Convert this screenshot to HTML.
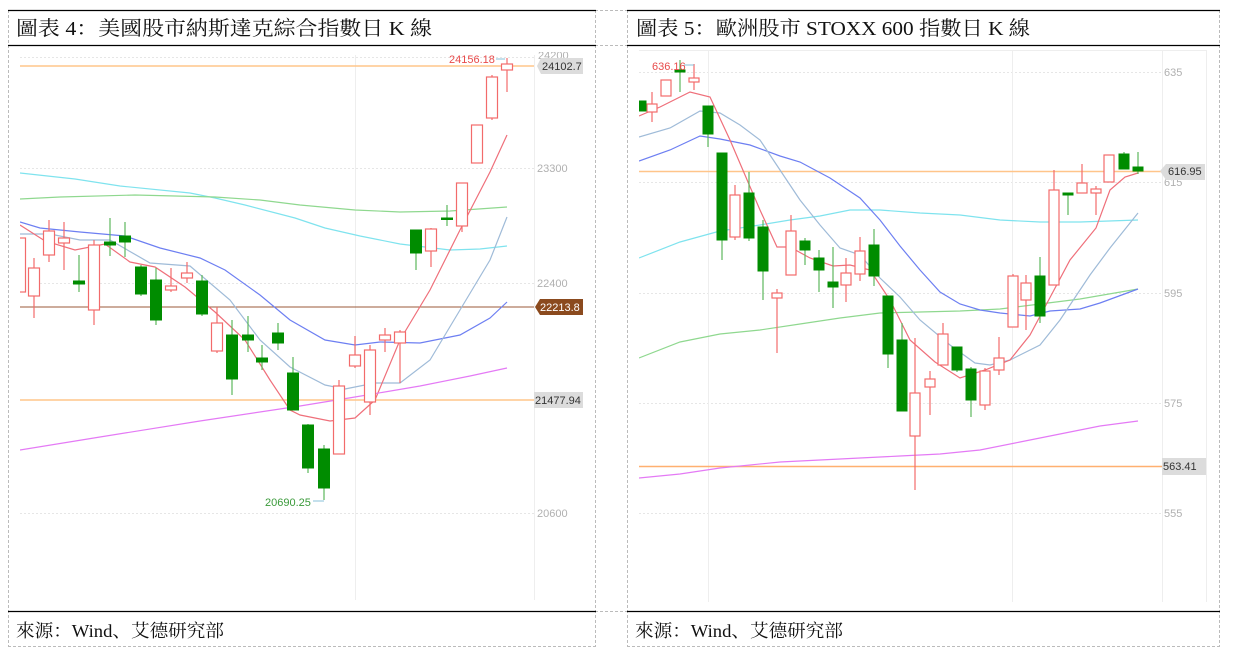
<!DOCTYPE html>
<html><head><meta charset="utf-8"><style>
html,body{margin:0;padding:0;background:#fff;}
svg{display:block;}
.t{font-family:"Liberation Serif","Noto Serif CJK SC",serif;fill:#111;}
.tk{font-family:"Liberation Sans",sans-serif;font-size:11px;fill:#b0b0b0;}
.lb{font-family:"Liberation Sans",sans-serif;font-size:11px;}
.r{fill:#fff;stroke:#f26b6b;stroke-width:1.2;}
.g{fill:#008c00;stroke:#008c00;stroke-width:1;}
.rw{stroke:#f26b6b;stroke-width:1.2;}
.gw{stroke:#5cb85c;stroke-width:1.2;}
.ma{fill:none;stroke-width:1.2;}
</style></head><body>
<svg width="1235" height="660" viewBox="0 0 1235 660" xmlns="http://www.w3.org/2000/svg">
<defs>
<clipPath id="cl"><rect x="20" y="50" width="520" height="560"/></clipPath>
<clipPath id="cr"><rect x="639" y="50" width="525" height="560"/></clipPath>
<clipPath id="ct"><rect x="530" y="52" width="60" height="20"/></clipPath>
</defs>
<g stroke="#bbb" stroke-dasharray="3,2" fill="none" stroke-width="1">
<line x1="8.5" y1="10" x2="8.5" y2="646"/><line x1="595.5" y1="10" x2="595.5" y2="646"/>
<line x1="8" y1="646.5" x2="596" y2="646.5"/>
<line x1="595" y1="10.5" x2="628" y2="10.5"/><line x1="595" y1="45.5" x2="628" y2="45.5"/>
<line x1="595" y1="611.5" x2="628" y2="611.5"/>
<line x1="627.5" y1="10" x2="627.5" y2="646"/><line x1="1219.5" y1="10" x2="1219.5" y2="646"/>
<line x1="627" y1="646.5" x2="1220" y2="646.5"/>
</g>
<g stroke="#000" stroke-width="1.3">
<line x1="8" y1="10.5" x2="596" y2="10.5"/><line x1="8" y1="45.5" x2="596" y2="45.5"/><line x1="8" y1="611.5" x2="596" y2="611.5"/>
<line x1="627" y1="10.5" x2="1220" y2="10.5"/><line x1="627" y1="45.5" x2="1220" y2="45.5"/><line x1="627" y1="611.5" x2="1220" y2="611.5"/>
</g>
<text class="t" x="16" y="35" font-size="20" textLength="416" lengthAdjust="spacingAndGlyphs">圖表 4：美國股市納斯達克綜合指數日 K 線</text>
<text class="t" x="636" y="35" font-size="20" textLength="394" lengthAdjust="spacingAndGlyphs">圖表 5：歐洲股市 STOXX 600 指數日 K 線</text>
<text class="t" x="16" y="637" font-size="18" textLength="208" lengthAdjust="spacingAndGlyphs">來源：Wind、艾德研究部</text>
<text class="t" x="635" y="637" font-size="18" textLength="208" lengthAdjust="spacingAndGlyphs">來源：Wind、艾德研究部</text>

<g stroke="#e6e6e6" stroke-dasharray="2,2" stroke-width="1">
<line x1="20" y1="57.5" x2="534" y2="57.5"/><line x1="20" y1="168.5" x2="534" y2="168.5"/><line x1="20" y1="283.5" x2="534" y2="283.5"/><line x1="20" y1="513.5" x2="534" y2="513.5"/>
</g>
<g stroke="#eee" stroke-width="1"><line x1="355.5" y1="55" x2="355.5" y2="600"/><line x1="534.5" y1="55" x2="534.5" y2="600"/></g>
<text class="tk" x="537" y="172">23300</text><text class="tk" x="537" y="287">22400</text><text class="tk" x="537" y="517">20600</text>
<line x1="20" y1="66" x2="534" y2="66" stroke="#ffc58a" stroke-width="1.5"/>
<line x1="20" y1="400" x2="534" y2="400" stroke="#ffc58a" stroke-width="1.5"/>
<line x1="20" y1="307" x2="534" y2="307" stroke="#9b5a3a" stroke-width="1"/>
<g clip-path="url(#cl)">
<polyline class="ma" stroke="#7fe3ee" points="20,173 75,179 120,186 190,193 215,198 245,205 295,218 325,228 360,236 400,244 450,250 480,249 507,246"/>
<polyline class="ma" stroke="#8fd88f" points="20,199 60,197 135,195 215,197 260,200 300,205 355,210 400,212 450,211 507,207"/>
<polyline class="ma" stroke="#6d7ff2" points="20,222 40,228 80,232 125,236 160,248 200,258 225,270 260,295 290,320 325,340 355,345 380,342 420,343 460,335 490,318 507,302"/>
<polyline class="ma" stroke="#9fbbd8" points="20,234 50,234 80,240 110,240 150,263 190,266 230,300 260,340 290,367 325,385 345,389 375,383 400,383 430,360 460,310 490,260 507,217"/>
<polyline class="ma" stroke="#ef6f7a" points="20,225 45,241 75,250 105,244 130,262 155,267 185,287 215,312 245,340 270,380 290,410 300,415 330,421 355,418 375,400 400,340 430,290 460,230 490,172 507,135"/>
<polyline class="ma" stroke="#e47af5" points="20,450 100,437 200,421 300,406 355,397 420,386 470,376 507,368"/>
<g class="rw">
<line x1="20" y1="238" x2="20" y2="292"/><line x1="34" y1="258" x2="34" y2="318"/><line x1="49" y1="220" x2="49" y2="262"/><line x1="64" y1="222" x2="64" y2="270"/><line x1="94" y1="240" x2="94" y2="325"/><line x1="171" y1="268" x2="171" y2="292"/><line x1="187" y1="262" x2="187" y2="283"/><line x1="217" y1="307" x2="217" y2="353"/><line x1="339" y1="380" x2="339" y2="454"/><line x1="355" y1="336" x2="355" y2="368"/><line x1="370" y1="345" x2="370" y2="415"/><line x1="385" y1="328" x2="385" y2="352"/><line x1="400" y1="330" x2="400" y2="383"/><line x1="431" y1="228" x2="431" y2="267"/><line x1="462" y1="183" x2="462" y2="232"/><line x1="477" y1="125" x2="477" y2="163"/><line x1="492" y1="75" x2="492" y2="120"/><line x1="507" y1="58" x2="507" y2="92"/>
</g>
<g class="gw">
<line x1="79" y1="255" x2="79" y2="292"/><line x1="110" y1="218" x2="110" y2="256"/><line x1="125" y1="222" x2="125" y2="257"/><line x1="141" y1="265" x2="141" y2="296"/><line x1="156" y1="268" x2="156" y2="325"/><line x1="202" y1="275" x2="202" y2="316"/><line x1="232" y1="320" x2="232" y2="395"/><line x1="248" y1="316" x2="248" y2="352"/><line x1="262" y1="345" x2="262" y2="370"/><line x1="278" y1="323" x2="278" y2="350"/><line x1="293" y1="357" x2="293" y2="410"/><line x1="308" y1="424" x2="308" y2="473"/><line x1="324" y1="445" x2="324" y2="500"/><line x1="416" y1="230" x2="416" y2="270"/><line x1="447" y1="205" x2="447" y2="226"/>
</g>
<g class="r">
<rect x="14.5" y="238" width="11" height="54"/><rect x="28.5" y="268" width="11" height="28"/><rect x="43.5" y="231" width="11" height="24"/><rect x="58.5" y="238" width="11" height="5"/><rect x="88.5" y="245" width="11" height="65"/><rect x="165.5" y="286" width="11" height="4"/><rect x="181.5" y="273" width="11" height="5"/><rect x="211.5" y="323" width="11" height="28"/><rect x="333.5" y="386" width="11" height="68"/><rect x="349.5" y="355" width="11" height="11"/><rect x="364.5" y="350" width="11" height="52"/><rect x="379.5" y="335" width="11" height="5"/><rect x="394.5" y="332" width="11" height="11"/><rect x="425.5" y="229" width="11" height="22"/><rect x="456.5" y="183" width="11" height="43"/><rect x="471.5" y="125" width="11" height="38"/><rect x="486.5" y="77" width="11" height="41"/><rect x="501.5" y="64" width="11" height="6"/>
</g>
<g class="g">
<rect x="73.5" y="281" width="11" height="3"/><rect x="104.5" y="242" width="11" height="3"/><rect x="119.5" y="236" width="11" height="6"/><rect x="135.5" y="267" width="11" height="27"/><rect x="150.5" y="280" width="11" height="40"/><rect x="196.5" y="281" width="11" height="33"/><rect x="226.5" y="335" width="11" height="44"/><rect x="242.5" y="335" width="11" height="5"/><rect x="256.5" y="358" width="11" height="4"/><rect x="272.5" y="333" width="11" height="10"/><rect x="287.5" y="373" width="11" height="37"/><rect x="302.5" y="425" width="11" height="43"/><rect x="318.5" y="449" width="11" height="39"/><rect x="410.5" y="230" width="11" height="23"/><rect x="441.5" y="218" width="11" height="1.5"/>
</g>
</g>
<text class="lb" x="449" y="63" fill="#e84b4b">24156.18</text>
<line x1="496" y1="59" x2="505" y2="59" stroke="#8ac0d8"/>
<text class="lb" x="265" y="506" fill="#3a9a3a">20690.25</text>
<line x1="313" y1="501" x2="324" y2="501" stroke="#8ac0d8"/>
<text class="tk" x="538" y="59" fill="#ccc" clip-path="url(#ct)">24200</text>
<path d="M537,66 L541,58 H583 V74 H541 Z" fill="#dcdcdc"/><text class="lb" x="542" y="70" fill="#333">24102.7</text>
<path d="M535,307 L540,299 H583 V315 H540 Z" fill="#8b4a1e"/><text class="lb" x="540" y="311" fill="#fff">22213.8</text>
<rect x="534" y="392" width="49" height="16" fill="#dcdcdc"/><text class="lb" x="535" y="404" fill="#333">21477.94</text>

<g stroke="#e6e6e6" stroke-dasharray="2,2" stroke-width="1">
<line x1="639" y1="72.5" x2="1162" y2="72.5"/><line x1="639" y1="182.5" x2="1162" y2="182.5"/><line x1="639" y1="293.5" x2="1162" y2="293.5"/><line x1="639" y1="403.5" x2="1162" y2="403.5"/><line x1="639" y1="513.5" x2="1162" y2="513.5"/>
</g>
<g stroke="#eee" stroke-width="1"><line x1="708.5" y1="50" x2="708.5" y2="602"/><line x1="1012.5" y1="50" x2="1012.5" y2="602"/><line x1="1162.5" y1="50" x2="1162.5" y2="602"/><line x1="1206.5" y1="50" x2="1206.5" y2="602"/><line x1="639" y1="50.5" x2="1206" y2="50.5"/></g>
<text class="tk" x="1164" y="76">635</text><text class="tk" x="1164" y="186">615</text><text class="tk" x="1164" y="297">595</text><text class="tk" x="1164" y="407">575</text><text class="tk" x="1164" y="517">555</text>
<line x1="639" y1="171.5" x2="1162" y2="171.5" stroke="#ffc58a" stroke-width="1.5"/>
<line x1="639" y1="466.5" x2="1162" y2="466.5" stroke="#ffb070" stroke-width="1.5"/>
<g clip-path="url(#cr)">
<polyline class="ma" stroke="#7fe3ee" points="639,258 680,242 720,231 760,225 790,220 820,216 850,210 880,210 920,213 960,215 1000,220 1040,222 1080,222 1138,220"/>
<polyline class="ma" stroke="#8fd88f" points="639,358 680,342 720,334 760,330 800,324 840,318 880,313 920,312 960,311 1000,309 1040,304 1080,299 1138,289"/>
<polyline class="ma" stroke="#e47af5" points="639,478 680,474 720,468 780,462 840,459 900,456 940,454 980,450 1020,442 1060,434 1100,426 1138,421"/>
<polyline class="ma" stroke="#6d7ff2" points="639,161 670,150 700,136 720,139 750,145 780,156 800,162 830,178 860,198 880,220 900,246 920,270 940,292 960,304 980,310 1000,313 1030,316 1050,311 1080,309 1100,303 1138,289"/>
<polyline class="ma" stroke="#9fbbd8" points="639,137 670,128 700,111 720,113 740,125 760,140 780,170 800,200 820,225 840,248 860,255 880,278 900,297 920,320 950,345 975,363 990,365 1010,360 1040,345 1060,320 1090,275 1110,248 1138,213"/>
<polyline class="ma" stroke="#ef6f7a" points="639,116 660,107 690,92 710,97 730,140 760,210 777,247 790,247 810,258 833,266 850,265 870,270 890,300 910,340 935,362 960,378 985,370 1010,360 1030,335 1054,290 1070,260 1096,228 1110,190 1125,177 1138,173"/>
<g class="rw">
<line x1="652" y1="92" x2="652" y2="122"/><line x1="666" y1="80" x2="666" y2="96"/><line x1="694" y1="64" x2="694" y2="90"/><line x1="735" y1="185" x2="735" y2="240"/><line x1="777" y1="289" x2="777" y2="353"/><line x1="791" y1="215" x2="791" y2="275"/><line x1="846" y1="258" x2="846" y2="302"/><line x1="860" y1="237" x2="860" y2="281"/><line x1="915" y1="338" x2="915" y2="490"/><line x1="930" y1="371" x2="930" y2="415"/><line x1="943" y1="323" x2="943" y2="365"/><line x1="985" y1="368" x2="985" y2="410"/><line x1="999" y1="337" x2="999" y2="375"/><line x1="1013" y1="274" x2="1013" y2="327"/><line x1="1026" y1="275" x2="1026" y2="330"/><line x1="1054" y1="170" x2="1054" y2="285"/><line x1="1082" y1="164" x2="1082" y2="193"/><line x1="1096" y1="186" x2="1096" y2="215"/><line x1="1109" y1="155" x2="1109" y2="182"/>
</g>
<g class="gw">
<line x1="680" y1="60" x2="680" y2="92"/><line x1="708" y1="106" x2="708" y2="147"/><line x1="722" y1="153" x2="722" y2="260"/><line x1="749" y1="172" x2="749" y2="241"/><line x1="763" y1="220" x2="763" y2="300"/><line x1="805" y1="238" x2="805" y2="265"/><line x1="819" y1="250" x2="819" y2="292"/><line x1="833" y1="247" x2="833" y2="308"/><line x1="874" y1="229" x2="874" y2="286"/><line x1="888" y1="296" x2="888" y2="368"/><line x1="902" y1="323" x2="902" y2="411"/><line x1="957" y1="347" x2="957" y2="372"/><line x1="971" y1="367" x2="971" y2="417"/><line x1="1040" y1="257" x2="1040" y2="323"/><line x1="1068" y1="193" x2="1068" y2="215"/><line x1="1124" y1="152" x2="1124" y2="169"/><line x1="1138" y1="152" x2="1138" y2="174"/>
</g>
<g class="r">
<rect x="647" y="104" width="10" height="8"/><rect x="661" y="80" width="10" height="16"/><rect x="689" y="78" width="10" height="4"/><rect x="730" y="195" width="10" height="42"/><rect x="772" y="293" width="10" height="5"/><rect x="786" y="231" width="10" height="44"/><rect x="841" y="273" width="10" height="12"/><rect x="855" y="251" width="10" height="23"/><rect x="910" y="393" width="10" height="43"/><rect x="925" y="379" width="10" height="8"/><rect x="938" y="334" width="10" height="31"/><rect x="980" y="371" width="10" height="34"/><rect x="994" y="358" width="10" height="12"/><rect x="1008" y="276" width="10" height="51"/><rect x="1021" y="283" width="10" height="17"/><rect x="1049" y="190" width="10" height="95"/><rect x="1077" y="183" width="10" height="10"/><rect x="1091" y="189" width="10" height="4"/><rect x="1104" y="155" width="10" height="27"/>
</g>
<g class="g">
<rect x="636" y="101" width="10" height="10"/><rect x="675" y="70" width="10" height="2"/><rect x="703" y="106" width="10" height="28"/><rect x="717" y="153" width="10" height="87"/><rect x="744" y="193" width="10" height="45"/><rect x="758" y="227" width="10" height="44"/><rect x="800" y="241" width="10" height="9"/><rect x="814" y="258" width="10" height="12"/><rect x="828" y="282" width="10" height="5"/><rect x="869" y="245" width="10" height="31"/><rect x="883" y="296" width="10" height="58"/><rect x="897" y="340" width="10" height="71"/><rect x="952" y="347" width="10" height="23"/><rect x="966" y="369" width="10" height="31"/><rect x="1035" y="276" width="10" height="40"/><rect x="1063" y="193" width="10" height="2"/><rect x="1119" y="154" width="10" height="15"/><rect x="1133" y="167" width="10" height="4"/>
</g>
</g>
<text class="lb" x="652" y="70" fill="#e84b4b">636.16</text>
<line x1="684" y1="65" x2="694" y2="65" stroke="#8ac0d8"/>
<path d="M1160,171 L1166,164 H1205 V180 H1166 Z" fill="#dcdcdc"/><text class="lb" x="1168" y="175" fill="#333">616.95</text>
<rect x="1162" y="458" width="44" height="17" fill="#dcdcdc"/><text class="lb" x="1163" y="470" fill="#333">563.41</text>
</svg>
</body></html>
